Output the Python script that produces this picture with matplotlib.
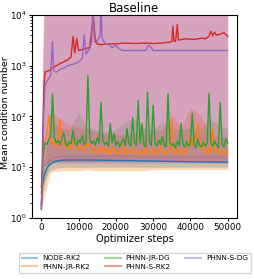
import numpy as np
import matplotlib
matplotlib.use("Agg")
import matplotlib.pyplot as plt
from matplotlib.lines import Line2D

# optimizer steps for the noisy series (every 500 steps)
steps = np.arange(0, 50001, 500)

green_mean = [4, 18, 30, 28, 35, 40, 280, 38, 30, 34, 28, 36, 48, 30, 26, 32, 29, 53, 31, 27,
              35, 30, 42, 28, 33, 640, 36, 29, 33, 27, 38, 30, 190, 34, 28, 31, 26, 73, 30, 46,
              27, 32, 25, 30, 36, 27, 58, 29, 26, 95, 31, 27, 205, 30, 73, 28, 25, 300, 33, 27,
              165, 30, 26, 34, 28, 40, 27, 25, 280, 31, 27, 29, 24, 33, 27, 73, 28, 25, 32, 26,
              30, 115, 28, 24, 35, 27, 25, 31, 26, 29, 285, 30, 26, 33, 27, 24, 190, 29, 25, 36, 30]

orange_mean = [3, 12, 30, 45, 105, 40, 28, 35, 25, 30, 90, 32, 26, 30, 24, 28, 22, 30, 35, 25,
               22, 27, 24, 20, 30, 26, 28, 22, 19, 25, 21, 19, 24, 20, 26, 19, 22, 18, 25, 20,
               23, 18, 21, 19, 27, 20, 18, 22, 19, 21, 24, 18, 20, 19, 22, 18, 25, 19, 21, 18,
               20, 23, 18, 19, 26, 20, 18, 22, 19, 21, 83, 20, 18, 24, 19, 21, 18, 22, 20, 30,
               45, 26, 40, 35, 73, 50, 22, 28, 20, 19, 24, 18, 60, 22, 19, 25, 20, 18, 21, 19, 18]

# coarse band steps (every 2500)
band_steps = np.arange(0, 50001, 2500)
orange_lo = [1.5, 8, 8.5, 8.5, 8.5, 9, 8.5, 8.5, 8.5, 8.5, 8.5, 8.5, 9, 9, 9, 9, 9, 9, 9, 9, 9]
orange_hi = [5, 120, 90, 70, 60, 55, 50, 45, 45, 45, 45, 45, 50, 55, 110, 60, 150, 110, 50, 40, 40]
green_lo = [2, 15, 16, 16, 16, 16, 16, 16, 16, 16, 16, 16, 16, 16, 16, 16, 16, 16, 16, 16, 16]
green_hi = [8, 90, 60, 55, 120, 60, 55, 50, 55, 80, 90, 60, 55, 80, 60, 55, 60, 55, 90, 70, 55]

node_x = [0, 300, 700, 1000, 1500, 2000, 3000, 4000, 6000, 10000, 20000, 30000, 40000, 50000]
node_mean = [1.8, 4.5, 6.5, 7.8, 9.5, 10.8, 12.3, 13.2, 13.8, 13.9, 13.6, 13.2, 12.8, 12.5]
node_lo = [1.2, 3, 4.5, 5.5, 7, 8, 9, 9.5, 10, 10, 10, 10, 10, 10]
node_hi = [3, 7, 9, 11, 13, 15, 16, 17, 18, 18, 18, 17, 17, 17]

red_x = [0, 300, 700, 1000, 2000, 3000, 4000, 5000, 6000, 7000, 8000, 8500, 9000, 9500, 10000,
         11000, 12000, 13000, 13500, 14000, 14500, 15000, 16000, 18000, 20000, 22000, 25000,
         28000, 30000, 32000, 34000, 35000, 35300, 35600, 36000, 36500, 36800, 37500, 39000,
         41000, 43000, 44000, 45000, 45500, 46000, 46500, 47000, 48000, 49000, 50000]
red_mean = [1.5, 20, 400, 750, 800, 900, 1000, 1100, 1200, 1300, 1500, 3800, 1800, 3500, 2000,
            2100, 2200, 2300, 5000, 8700, 3000, 2700, 2600, 2700, 2700, 2800, 2750,
            2800, 2750, 2800, 2900, 3000, 6000, 3100, 3000, 6500, 3200, 3300, 3400,
            3300, 3500, 3400, 3800, 4800, 3900, 4600, 4000, 4200, 4500, 3800]

purple_x = [0, 300, 600, 1000, 1500, 2000, 2500, 3000, 3300, 4000, 5000, 6000, 7000, 8000, 9000,
            10000, 11000, 11500, 12000, 13000, 13500, 13800, 14200, 15000, 15800, 16000, 16300,
            17000, 18000, 19000, 20000, 21000, 22000, 28000, 28700, 29500, 30000, 40000, 50000]
purple_mean = [1.5, 5, 100, 400, 500, 560, 650, 3000, 800, 750, 850, 900, 1000, 1050, 1100,
               1200, 1400, 4000, 1700, 2200, 3000, 15000, 3500, 3000, 4000, 20000, 3500,
               2800, 2600, 2300, 2500, 2100, 2000, 2000, 2500, 2300, 2000, 2000, 2000]

wide_x = [0, 300, 700, 1500, 3000, 10000, 30000, 50000]
red_lo = [1.2, 5, 10, 12, 13, 13, 13, 13]
red_hi = [3, 1000, 20000, 30000, 30000, 30000, 30000, 30000]
purple_lo = [1.3, 3, 10, 11, 12, 12, 12, 12]
purple_hi = [3, 300, 8000, 30000, 30000, 30000, 30000, 30000]

labels = ["NODE-RK2", "PHNN-JR-RK2", "PHNN-JR-DG", "PHNN-S-RK2", "PHNN-S-DG"]
colors = ["tab:blue", "tab:orange", "tab:green", "tab:red", "tab:purple"]

fig = plt.figure(figsize=(2.54, 2.79), dpi=100)
ax = fig.add_axes([0.126, 0.219, 0.807, 0.727])

a = 0.3
ax.fill_between(node_x, node_lo, node_hi, color=colors[0], alpha=a, lw=0)
ax.fill_between(band_steps, orange_lo, orange_hi, color=colors[1], alpha=a, lw=0)
ax.fill_between(band_steps, green_lo, green_hi, color=colors[2], alpha=0.2, lw=0)
ax.fill_between(wide_x, red_lo, red_hi, color=colors[3], alpha=a, lw=0)
ax.fill_between(wide_x, purple_lo, purple_hi, color=colors[4], alpha=a, lw=0)

lw = 1.0
ax.plot(node_x, node_mean, color=colors[0], lw=lw)
ax.plot(steps, orange_mean, color=colors[1], lw=lw)
ax.plot(steps, green_mean, color=colors[2], lw=lw)
ax.plot(red_x, red_mean, color=colors[3], lw=lw)
ax.plot(purple_x, purple_mean, color=colors[4], lw=lw)

ax.set_yscale("log")
ax.set_ylim(1, 1e4)
ax.set_xlim(-2500, 52500)
ax.set_xticks([0, 10000, 20000, 30000, 40000, 50000])
ax.tick_params(labelsize=6.3, length=2.5, pad=1.5)
ax.tick_params(which="minor", length=1.5)
ax.set_xlabel("Optimizer steps", fontsize=7.1, labelpad=1)
ax.set_ylabel("Mean condition number", fontsize=6.8)
ax.yaxis.set_label_coords(-0.105, 0.52)
ax.set_title("Baseline", fontsize=8.5, pad=2)

handles = [Line2D([], [], color=c, lw=1.5, alpha=0.45) for c in colors]
fig.legend(handles, labels, loc="lower center", bbox_to_anchor=(0.531, 0.01), ncol=3,
           fontsize=5.2, handlelength=2.2, handletextpad=0.7, columnspacing=2.0,
           borderpad=0.4, labelspacing=0.3, frameon=True)

fig.savefig("out.png", dpi=100)
